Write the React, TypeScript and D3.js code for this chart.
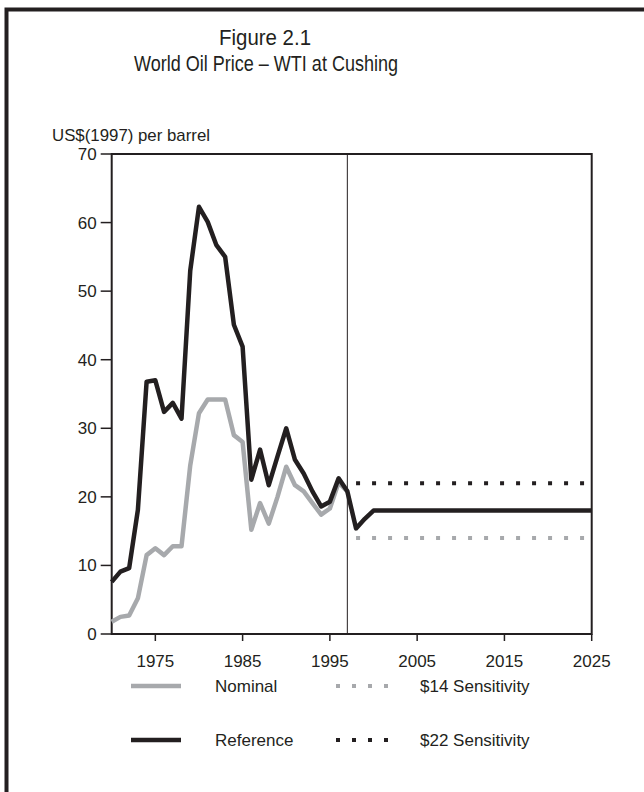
import React from "react";
import * as d3 from "d3";

const refYears = [1970, 1971, 1972, 1973, 1974, 1975, 1976, 1977, 1978, 1979, 1980, 1981, 1982, 1983, 1984, 1985, 1986, 1987, 1988, 1989, 1990, 1991, 1992, 1993, 1994, 1995, 1996, 1997, 1998, 1999, 2000, 2025];
const refValues = [7.6, 9.1, 9.6, 18.1, 36.8, 37.0, 32.4, 33.7, 31.4, 53.0, 62.3, 60.1, 56.7, 55.0, 45.1, 41.9, 22.5, 26.9, 21.7, 25.9, 30.0, 25.4, 23.4, 20.8, 18.6, 19.3, 22.7, 20.8, 15.4, 16.8, 18.0, 18.0];

const nomYears = [1970, 1971, 1972, 1973, 1974, 1975, 1976, 1977, 1978, 1979, 1980, 1981, 1982, 1983, 1984, 1985, 1986, 1987, 1988, 1989, 1990, 1991, 1992, 1993, 1994, 1995, 1996, 1997];
const nomValues = [1.8, 2.5, 2.7, 5.2, 11.5, 12.5, 11.5, 12.8, 12.8, 24.6, 32.2, 34.2, 34.2, 34.2, 29.0, 28.0, 15.2, 19.1, 16.1, 20.0, 24.4, 21.7, 20.8, 19.1, 17.4, 18.3, 22.1, 20.8];

const sensYears = [1998, 2025];
const sens14Values = [14, 14];
const sens22Values = [22, 22];

const xTicks = [1975, 1985, 1995, 2005, 2015, 2025];
const yTicks = [0, 10, 20, 30, 40, 50, 60, 70];
const forecastStart = 1997;

const legendItems = [
  { label: "Nominal", kind: "nominal" },
  { label: "$14 Sensitivity", kind: "s14" },
  { label: "Reference", kind: "ref" },
  { label: "$22 Sensitivity", kind: "s22" },
];

const BLACK = "#231f20";
const GREY = "#a7a9ac";
const FONT = "'Liberation Sans', Arial, sans-serif";

export default function App() {
  const left = 111.7, right = 591.7, top = 154, bottom = 634;
  const x = d3.scaleLinear().domain([1970, 2025]).range([left, right]);
  const y = d3.scaleLinear().domain([0, 70]).range([bottom, top]);

  const line = d3.line<[number, number]>().x((d) => x(d[0])).y((d) => y(d[1]));
  const refPts = refYears.map((yr, i) => [yr, refValues[i]] as [number, number]);
  const nomPts = nomYears.map((yr, i) => [yr, nomValues[i]] as [number, number]);
  const s14Pts = sensYears.map((yr, i) => [yr, sens14Values[i]] as [number, number]);
  const s22Pts = sensYears.map((yr, i) => [yr, sens22Values[i]] as [number, number]);

  const legendRowY = [686, 740];
  const legendSampleX = [131, 336];
  const legendTextX = [215, 420];

  const sample = (kind: string, sx: number, sy: number) => {
    if (kind === "nominal")
      return <line x1={sx} x2={sx + 50} y1={sy} y2={sy} stroke={GREY} strokeWidth={4.5} />;
    if (kind === "ref")
      return <line x1={sx} x2={sx + 50} y1={sy} y2={sy} stroke={BLACK} strokeWidth={4.5} />;
    return (
      <line x1={sx} x2={sx + 52} y1={sy} y2={sy} stroke={kind === "s14" ? GREY : BLACK}
        strokeWidth={4} strokeDasharray="4 12" />
    );
  };

  return (
    <svg width={644} height={792} style={{ position: "absolute", left: 0, top: 0, background: "#fff" }}
      fontFamily={FONT}>
      <rect x={0} y={0} width={644} height={792} fill="#fff" />
      {/* outer frame */}
      <path d="M6.5,800 L6.5,9.5 L650,9.5" fill="none" stroke={BLACK} strokeWidth={4} />

      {/* titles */}
      <text x={265} y={45} textAnchor="middle" fontSize={22} fill={BLACK}
        textLength={92} lengthAdjust="spacingAndGlyphs">Figure 2.1</text>
      <text x={266} y={71} textAnchor="middle" fontSize={22} fill={BLACK}
        textLength={264} lengthAdjust="spacingAndGlyphs">World Oil Price – WTI at Cushing</text>
      <text x={52} y={141} fontSize={17} fill={BLACK}
        textLength={158} lengthAdjust="spacingAndGlyphs">US$(1997) per barrel</text>

      {/* plot box */}
      <rect x={left} y={top} width={right - left} height={bottom - top} fill="none" stroke={BLACK} strokeWidth={2} />
      <line x1={x(forecastStart)} x2={x(forecastStart)} y1={top} y2={bottom} stroke={BLACK} strokeWidth={1} />

      {/* y axis ticks */}
      {yTicks.map((t) => (
        <g key={t}>
          <line x1={left - 11} x2={left} y1={y(t)} y2={y(t)} stroke={BLACK} strokeWidth={1.5} />
          <text x={left - 15} y={y(t)} dy="0.35em" textAnchor="end" fontSize={17} fill={BLACK}>{t}</text>
        </g>
      ))}
      {/* x axis ticks */}
      {xTicks.map((t) => (
        <g key={t}>
          <line x1={x(t)} x2={x(t)} y1={bottom} y2={bottom + 7} stroke={BLACK} strokeWidth={1.5} />
          <text x={x(t)} y={bottom + 33} textAnchor="middle" fontSize={17} fill={BLACK}>{t}</text>
        </g>
      ))}

      {/* series */}
      <path d={line(s14Pts) || ""} fill="none" stroke={GREY} strokeWidth={4} strokeDasharray="4 12" />
      <path d={line(s22Pts) || ""} fill="none" stroke={BLACK} strokeWidth={4} strokeDasharray="4 12" />
      <path d={line(nomPts) || ""} fill="none" stroke={GREY} strokeWidth={4.5} strokeLinejoin="round" />
      <path d={line(refPts) || ""} fill="none" stroke={BLACK} strokeWidth={4.5} strokeLinejoin="round" />

      {/* legend */}
      {legendItems.map((it, i) => {
        const col = i % 2;
        const row = Math.floor(i / 2);
        const sy = legendRowY[row];
        return (
          <g key={it.label}>
            {sample(it.kind, legendSampleX[col], sy)}
            <text x={legendTextX[col]} y={sy} dy="0.35em" fontSize={17} fill={BLACK}>{it.label}</text>
          </g>
        );
      })}
    </svg>
  );
}
